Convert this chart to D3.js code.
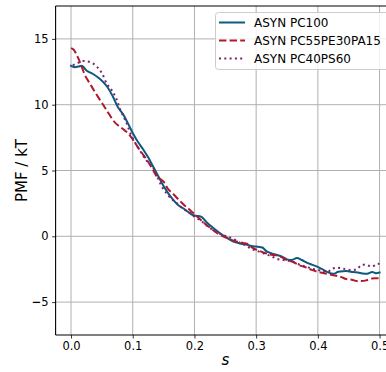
<!DOCTYPE html>
<html>
<head>
<meta charset="utf-8">
<script src="https://cdn.jsdelivr.net/npm/d3@7"></script>
<style>
  body { margin: 0; background: #fff; }
  svg { display: block; font-family: "DejaVu Sans", sans-serif; }
</style>
</head>
<body>
<svg id="chart"></svg>
<script>
// PMF curves along s
const pc100S = [0, 0.006, 0.012, 0.018, 0.025, 0.035, 0.047, 0.058, 0.068, 0.076, 0.084, 0.092, 0.1, 0.108, 0.117, 0.125, 0.133, 0.141, 0.149, 0.157, 0.165, 0.173, 0.181, 0.19, 0.198, 0.205, 0.212, 0.22, 0.23, 0.241, 0.252, 0.263, 0.274, 0.285, 0.295, 0.303, 0.31, 0.317, 0.325, 0.334, 0.342, 0.35, 0.358, 0.366, 0.374, 0.382, 0.39, 0.399, 0.407, 0.415, 0.425, 0.433, 0.441, 0.449, 0.457, 0.465, 0.472, 0.48, 0.488, 0.494, 0.5];
const pc100Pmf = [12.95, 12.85, 12.9, 12.95, 12.6, 12.35, 11.95, 11.4, 10.6, 9.8, 9.3, 8.6, 7.85, 7.2, 6.6, 6.0, 5.3, 4.6, 3.9, 3.3, 2.8, 2.4, 2.15, 1.85, 1.6, 1.55, 1.45, 1.05, 0.65, 0.25, -0.1, -0.4, -0.55, -0.65, -0.75, -0.8, -0.85, -1.15, -1.3, -1.42, -1.55, -1.75, -1.8, -1.65, -1.8, -2.0, -2.15, -2.3, -2.5, -2.7, -2.85, -2.7, -2.65, -2.65, -2.72, -2.75, -2.82, -2.85, -2.72, -2.8, -2.75];

const pc55S = [0, 0.004, 0.008, 0.013, 0.018, 0.023, 0.03, 0.037, 0.045, 0.052, 0.058, 0.066, 0.072, 0.08, 0.087, 0.093, 0.101, 0.107, 0.117, 0.123, 0.131, 0.139, 0.15, 0.157, 0.166, 0.176, 0.185, 0.194, 0.202, 0.209, 0.216, 0.23, 0.24, 0.253, 0.265, 0.279, 0.287, 0.295, 0.305, 0.314, 0.325, 0.334, 0.342, 0.35, 0.36, 0.37, 0.38, 0.39, 0.4, 0.41, 0.42, 0.43, 0.438, 0.446, 0.455, 0.463, 0.47, 0.478, 0.488, 0.5];
const pc55Pmf = [14.3, 14.2, 13.9, 13.4, 12.8, 12.2, 11.65, 11.1, 10.5, 10.0, 9.55, 8.97, 8.6, 8.3, 8.05, 7.8, 7.3, 6.85, 6.2, 5.8, 5.2, 4.55, 4.15, 3.6, 3.2, 2.7, 2.3, 1.95, 1.6, 1.3, 1.0, 0.48, 0.15, -0.13, -0.35, -0.5, -0.6, -0.9, -1.1, -1.27, -1.4, -1.45, -1.6, -1.8, -1.95, -2.2, -2.35, -2.55, -2.7, -2.8, -2.9, -3.0, -3.1, -3.25, -3.3, -3.4, -3.4, -3.35, -3.2, -3.2];

const pc40S = [0.003, 0.01, 0.017, 0.025, 0.035, 0.044, 0.05, 0.058, 0.066, 0.074, 0.079, 0.085, 0.09, 0.096, 0.104, 0.112, 0.12, 0.127, 0.133, 0.14, 0.147, 0.155, 0.164, 0.172, 0.181, 0.19, 0.2, 0.21, 0.218, 0.225, 0.233, 0.241, 0.252, 0.263, 0.274, 0.282, 0.293, 0.301, 0.31, 0.318, 0.327, 0.336, 0.344, 0.352, 0.36, 0.37, 0.38, 0.39, 0.4, 0.408, 0.416, 0.422, 0.428, 0.436, 0.445, 0.455, 0.463, 0.471, 0.48, 0.488, 0.496, 0.5];
const pc40Pmf = [13.0, 13.15, 13.3, 13.3, 13.15, 12.78, 12.4, 11.6, 11.1, 10.4, 9.7, 9.1, 8.6, 7.85, 7.1, 6.5, 5.9, 5.5, 5.2, 4.5, 3.8, 3.25, 2.8, 2.5, 2.1, 1.85, 1.5, 1.2, 0.9, 0.63, 0.4, 0.2, 0.0, -0.2, -0.5, -0.66, -0.97, -1.1, -1.27, -1.4, -1.57, -1.75, -1.8, -1.85, -1.95, -2.15, -2.3, -2.45, -2.55, -2.65, -2.7, -2.5, -2.4, -2.4, -2.5, -2.56, -2.5, -2.18, -2.2, -2.3, -2.1, -2.1];

const seriesNames = ["ASYN PC100", "ASYN PC55PE30PA15", "ASYN PC40PS60"];
const xTicks = [0.0, 0.1, 0.2, 0.3, 0.4, 0.5];
const yTicks = [-5, 0, 5, 10, 15];

const width = 386;
const height = 372;
const margin = { top: 6, left: 55.6, bottom: 335 };
const plotRight = 395;

const series = [
  { name: seriesNames[0], s: pc100S, v: pc100Pmf, color: "#0d5a80", dash: null },
  { name: seriesNames[1], s: pc55S, v: pc55Pmf, color: "#b2182b", dash: "7.4,3.2" },
  { name: seriesNames[2], s: pc40S, v: pc40Pmf, color: "#7b2468", dash: "2,3.3" },
];

const svg = d3.select("#chart").attr("width", width).attr("height", height);

const x = d3.scaleLinear().domain([-0.025, 0.525]).range([margin.left, plotRight]);
const y = d3.scaleLinear().domain([-7.5, 17.5]).range([margin.bottom, margin.top]);

// grid
svg.append("g")
  .selectAll("line")
  .data(xTicks)
  .enter()
  .append("line")
  .attr("x1", (d) => x(d))
  .attr("x2", (d) => x(d))
  .attr("y1", margin.top)
  .attr("y2", margin.bottom)
  .attr("stroke", "#b0b0b0")
  .attr("stroke-width", 1);

svg.append("g")
  .selectAll("line")
  .data(yTicks)
  .enter()
  .append("line")
  .attr("x1", margin.left)
  .attr("x2", plotRight)
  .attr("y1", (d) => y(d))
  .attr("y2", (d) => y(d))
  .attr("stroke", "#b0b0b0")
  .attr("stroke-width", 1);

// curves
const line = d3
  .line()
  .x((d) => x(d[0]))
  .y((d) => y(d[1]))
  .curve(d3.curveCatmullRom);

series.forEach((sr) => {
  const pts = sr.s.map((s, i) => [s, sr.v[i]]);
  svg.append("path")
    .datum(pts)
    .attr("d", line)
    .attr("fill", "none")
    .attr("stroke", sr.color)
    .attr("stroke-width", 2)
    .attr("stroke-dasharray", sr.dash)
    .attr("stroke-linecap", sr.dash ? "butt" : "square");
});

// axes
const xAxis = d3.axisBottom(x).tickValues(xTicks).tickFormat(d3.format(".1f")).tickSize(3.5).tickPadding(3.5);
const yAxis = d3.axisLeft(y).tickValues(yTicks).tickFormat((d) => Math.abs(d)).tickSize(3.5).tickPadding(3.5);

const gx = svg.append("g").attr("transform", `translate(0,${margin.bottom})`).call(xAxis);
const gy = svg.append("g").attr("transform", `translate(${margin.left},0)`).call(yAxis);

[gx, gy].forEach((g) => {
  g.select(".domain").remove();
  g.selectAll(".tick line").attr("stroke", "#000").attr("stroke-width", 0.8);
  g.selectAll(".tick text")
    .attr("fill", "#000")
    .style("font-size", "11.5px")
    .style("font-family", "DejaVu Sans");
});

// the reference draws the minus of negative ticks as a heavy bar
gy.selectAll(".tick text")
  .filter((d) => d < 0)
  .text(null)
  .call((t) => {
    t.append("tspan").text("\u2212").style("font-weight", "bold");
    t.append("tspan").text((d) => Math.abs(d));
  });

// spines
svg.append("line").attr("x1", margin.left).attr("x2", margin.left).attr("y1", margin.top).attr("y2", margin.bottom).attr("stroke", "#000").attr("stroke-width", 1.1);
svg.append("line").attr("x1", margin.left).attr("x2", plotRight).attr("y1", margin.bottom).attr("y2", margin.bottom).attr("stroke", "#000").attr("stroke-width", 1.1);
svg.append("line").attr("x1", margin.left).attr("x2", plotRight).attr("y1", margin.top).attr("y2", margin.top).attr("stroke", "#000").attr("stroke-width", 1.1);

// axis labels
svg.append("text")
  .text("PMF / kT")
  .attr("transform", `translate(27,${(margin.top + margin.bottom) / 2}) rotate(-90)`)
  .attr("text-anchor", "middle")
  .style("font-size", "15px");

svg.append("text")
  .text("s")
  .attr("x", (margin.left + plotRight) / 2)
  .attr("y", 365)
  .attr("text-anchor", "middle")
  .style("font-size", "15px")
  .style("font-style", "italic");

// legend
const legend = svg.append("g").attr("transform", "translate(215,12)");
legend.append("rect")
  .attr("x", 0.5)
  .attr("y", 0.5)
  .attr("width", 190)
  .attr("height", 57)
  .attr("rx", 3)
  .attr("fill", "#fff")
  .attr("fill-opacity", 0.8)
  .attr("stroke", "#cccccc");

const entries = legend.selectAll("g")
  .data(series)
  .enter()
  .append("g")
  .attr("transform", (d, i) => `translate(0,${10.5 + i * 18})`);

entries.append("line")
  .attr("x1", 4)
  .attr("x2", 30)
  .attr("y1", 0)
  .attr("y2", 0)
  .attr("stroke", (d) => d.color)
  .attr("stroke-width", 2)
  .attr("stroke-dasharray", (d) => d.dash);

entries.append("text")
  .text((d) => d.name)
  .attr("x", 39)
  .attr("y", 4.3)
  .style("font-size", "12px");
</script>
</body>
</html>
